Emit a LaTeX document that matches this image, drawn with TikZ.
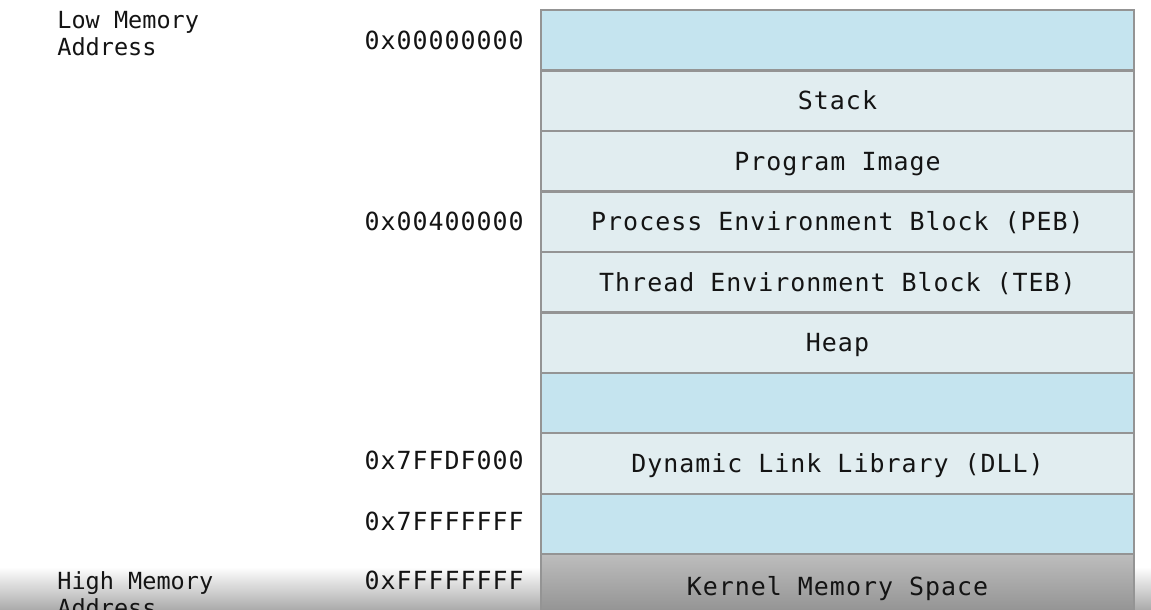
\documentclass[tikz,border=0pt]{standalone}
\usepackage{fontspec}
\usepackage{xcolor}
\usetikzlibrary{positioning}

\newfontfamily\memfont{DejaVu Sans Mono}
\newfontfamily\memfontsp[LetterSpace=4]{DejaVu Sans Mono}

\definecolor{segblue}{RGB}{197,228,239}
\definecolor{segpale}{RGB}{225,237,240}
\definecolor{segline}{RGB}{148,148,148}
\definecolor{inktext}{RGB}{20,20,20}
\definecolor{kerntop}{RGB}{189,189,189}
\definecolor{kernbot}{RGB}{145,145,145}
\definecolor{fadegray}{RGB}{172,172,172}

\tikzset{
  seg/.style={draw=segline, line width=1.2pt, minimum width=11.86cm, minimum height=1.21cm,
    inner sep=0pt, outer sep=0pt, text height=0.40cm, text depth=0.04cm,
    text=inktext, font=\memfontsp\fontsize{14.2}{17}\selectfont},
  segempty/.style={seg, fill=segblue},
  segfull/.style={seg, fill=segpale},
  addr/.style={inner sep=0pt, text=inktext, font=\memfontsp\fontsize{14.2}{17}\selectfont},
  side/.style={inner sep=0pt, anchor=west, align=left, text=inktext,
    font=\memfont\fontsize{13.4}{15.4}\selectfont}
}

\begin{document}
\begin{tikzpicture}[x=0.02cm, y=-0.02cm]
            \clip (0,0) rectangle (1151,609);
            \fill[white] (0,0) rectangle (1151,609);
            \shade[top color=white, bottom color=fadegray] (0,567) rectangle (1151,609);

            \node[segempty] (r0) at (837.5,40.25) {};
            \node[segfull, below=0pt of r0] (stack) {Stack};
            \node[segfull, below=0pt of stack] (image) {Program Image};
            \node[segfull, below=0pt of image] (peb) {Process Environment Block (PEB)};
            \node[segfull, below=0pt of peb] (teb) {Thread Environment Block (TEB)};
            \node[segfull, below=0pt of teb] (heap) {Heap};
            \node[segempty, below=0pt of heap] (gap1) {};
            \node[segfull, below=0pt of gap1] (dll) {Dynamic Link Library (DLL)};
            \node[segempty, below=0pt of dll] (gap2) {};
            \node[seg, top color=kerntop, bottom color=kernbot, text height=0.47cm,
                  below=0pt of gap2] (kernel) {Kernel Memory Space};

            \node[addr, left=0.34cm of r0] (a0) {0x00000000};
            \node[addr, left=0.34cm of peb] (a1) {0x00400000};
            \node[addr, left=0.34cm of dll, yshift=0.06cm] (a2) {0x7FFDF000};
            \node[addr, left=0.34cm of gap2, yshift=0.05cm] (a3) {0x7FFFFFFF};
            \node[addr, left=0.34cm of kernel, yshift=0.08cm] (a4) {0xFFFFFFFF};

            \node[side] (low) at (57,34) {Low Memory\\Address};
            \node[side] (high) at (57,594.5) {High Memory\\Address};
        \end{tikzpicture}
\end{document}
